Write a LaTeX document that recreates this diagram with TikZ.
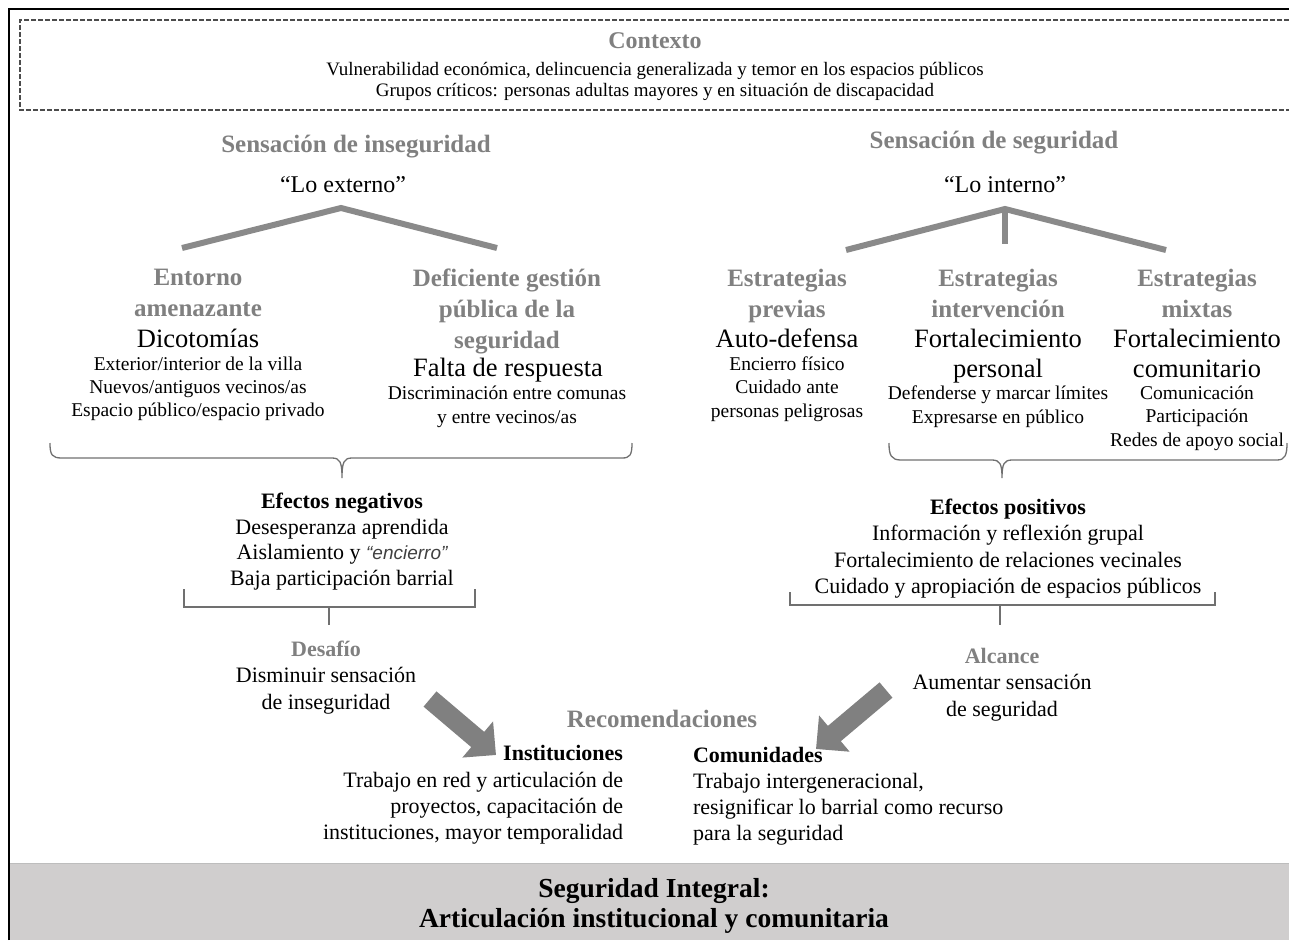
\documentclass[tikz,border=0pt]{standalone}
\usepackage{fontspec}
\setmainfont{Liberation Serif}
\newfontfamily\arialfam{Liberation Sans}
\usetikzlibrary{arrows.meta}
\definecolor{gtx}{HTML}{808080}
\definecolor{gln}{HTML}{8A8A8A}
\definecolor{brc}{HTML}{707070}
\definecolor{band}{HTML}{D0CECE}
\definecolor{bandedge}{HTML}{BDBDBD}
\newcommand{\fs}[2]{\fontsize{#1}{#2}\selectfont}
\tikzset{
  every node/.style={inner sep=0pt, outer sep=0pt},
  txt/.style={anchor=north, align=center},
  gh/.style={txt, text=gtx, font=\fs{25}{31}\bfseries},
  bigt/.style={txt, font=\fs{26.5}{30}},
  smallt/.style={txt, font=\fs{19.5}{23.5}},
  midt/.style={txt, font=\fs{22}{26}},
  boldt/.style={txt, font=\fs{22}{26}\bfseries},
  treeline/.style={draw=gln, line width=6pt},
  bracestyle/.style={draw=brc, line width=1.3pt},
  bigarrow/.style={draw=gtx, line width=20pt, -{Triangle[length=24pt,width=46pt]}},
}
\begin{document}
\begin{tikzpicture}[x=1pt,y=-1pt]
\useasboundingbox (0,0) rectangle (1289,940);
% band
\fill[band] (10,863) rectangle (1289,940);
\draw[bandedge, line width=1pt] (10,863) -- (1289,863);
% outer frame
\draw[black, line width=2.2pt] (9,940) -- (9,9) -- (1289,9);
% context dashed box
\draw[gray!60!black, line width=1.1pt, dash pattern=on 5pt off 2pt] (1289,20) -- (20,20) -- (20,110) -- (1289,110);

% context
\node[txt, text=gtx, font=\fs{24}{28}\bfseries] (ctx) at (655,33) {Contexto};
\node[txt, font=\fs{19}{21}] (ctxl) at (655,62) {Vulnerabilidad económica, delincuencia generalizada y temor en los espacios públicos\\Grupos críticos: personas adultas mayores y en situación de discapacidad};

% left side
\node[gh] (sins) at (356,135) {Sensación de inseguridad};
\node[txt, font=\fs{24}{28}] (lext) at (343,177) {“Lo externo”};
\node[gh] (ent) at (198,269) {Entorno\\amenazante};
\node[bigt] (dic) at (198,329) {Dicotomías};
\node[smallt, font=\fs{19.5}{23}] (dicl) at (198,356.5) {Exterior/interior de la villa\\Nuevos/antiguos vecinos/as\\Espacio público/espacio privado};
\node[gh] (def) at (507,269) {Deficiente gestión\\pública de la\\seguridad};
\node[bigt] (fal) at (508,358) {Falta de respuesta};
\node[smallt, font=\fs{19.5}{24}] (fall) at (507,385.5) {Discriminación entre comunas\\y entre vecinos/as};

\coordinate (la) at (341,208);
\coordinate (lb) at (182,248);
\coordinate (lc) at (497,248);
\draw[treeline] (lb) -- (la) -- (lc);

% left brace
\coordinate (lbl) at (50,443);
\coordinate (lbm) at (342,478);
\coordinate (lbr) at (632,443);
\draw[bracestyle] (lbl) .. controls (50,455) and (52,458) .. (62,458) -- (332,458) .. controls (340,458) and (342,462) .. (lbm) .. controls (342,462) and (344,458) .. (352,458) -- (622,458) .. controls (630,458) and (632,455) .. (lbr);

\node[boldt] (efn) at (342,493) {Efectos negativos};
\node[midt, font=\fs{22}{25.5}] (efnl) at (342,519) {Desesperanza aprendida\\Aislamiento y {\arialfam\itshape\fs{19}{25.5}\color{black!75}“encierro”}\\Baja participación barrial};

% left bracket
\coordinate (lkl) at (184,589);
\coordinate (lkr) at (475,589);
\coordinate (lks) at (329,625);
\draw[bracestyle] (lkl) -- (184,607) -- (475,607) -- (lkr);
\draw[bracestyle] (329,607) -- (lks);

\node[boldt, text=gtx] (des) at (326,641) {Desafío};
\node[midt, font=\fs{22}{27}] (desl) at (326,667) {Disminuir sensación\\de inseguridad};

% recommendations
\node[txt, text=gtx, font=\fs{25}{28}\bfseries] (rec) at (662,710) {Recomendaciones};
\node[boldt, anchor=north east] (inst) at (623,745) {Instituciones};
\node[midt, anchor=north east, align=right] (instl) at (623,772) {Trabajo en red y articulación de\\proyectos, capacitación de\\instituciones, mayor temporalidad};
\node[boldt, anchor=north west] (com) at (693,747) {Comunidades};
\node[midt, anchor=north west, align=left] (coml) at (693,773) {Trabajo intergeneracional,\\resignificar lo barrial como recurso\\para la seguridad};

\coordinate (aL1) at (430,699);
\coordinate (aL2) at (496,755);
\draw[bigarrow] (aL1) -- (aL2);
\coordinate (aR1) at (886,690);
\coordinate (aR2) at (816,749);
\draw[bigarrow] (aR1) -- (aR2);

% right side
\node[gh] (sseg) at (994,131) {Sensación de seguridad};
\node[txt, font=\fs{24}{28}] (lint) at (1005,177) {“Lo interno”};
\coordinate (ra) at (1005,209);
\coordinate (rb) at (846,250);
\coordinate (rc) at (1005,244);
\coordinate (rd) at (1166,250);
\draw[treeline] (rb) -- (ra) -- (rd);
\draw[treeline] (ra) -- (rc);

\node[gh] (epr) at (787,269) {Estrategias\\previas};
\node[bigt] (aut) at (787,329) {Auto-defensa};
\node[smallt] (autl) at (787,356.5) {Encierro físico\\Cuidado ante\\personas peligrosas};

\node[gh] (ein) at (998,269) {Estrategias\\intervención};
\node[bigt] (fpe) at (998,329) {Fortalecimiento\\personal};
\node[smallt, font=\fs{19.5}{24}] (fpel) at (998,385.5) {Defenderse y marcar límites\\Expresarse en público};

\node[gh] (emi) at (1197,269) {Estrategias\\mixtas};
\node[bigt] (fco) at (1197,329) {Fortalecimiento\\comunitario};
\node[smallt] (fcol) at (1197,385.5) {Comunicación\\Participación\\Redes de apoyo social};

% right brace
\coordinate (rbl) at (889,443);
\coordinate (rbm) at (1002,478);
\coordinate (rbr) at (1287,443);
\draw[bracestyle] (rbl) .. controls (889,455) and (891,460) .. (901,460) -- (992,460) .. controls (1000,460) and (1002,464) .. (rbm) .. controls (1002,464) and (1004,460) .. (1012,460) -- (1277,460) .. controls (1285,460) and (1287,455) .. (rbr);

\node[boldt] (efp) at (1008,499) {Efectos positivos};
\node[midt, font=\fs{22}{26.5}] (efpl) at (1008,525) {Información y reflexión grupal\\Fortalecimiento de relaciones vecinales\\Cuidado y apropiación de espacios públicos};

% right bracket
\coordinate (rkl) at (790,592);
\coordinate (rkr) at (1215,592);
\coordinate (rks) at (1000,625);
\draw[bracestyle] (rkl) -- (790,605) -- (1215,605) -- (rkr);
\draw[bracestyle] (1000,605) -- (rks);

\node[boldt, text=gtx] (alc) at (1002,648) {Alcance};
\node[midt, font=\fs{22}{27}] (alcl) at (1002,674) {Aumentar sensación\\de seguridad};

% band text
\node[txt, font=\fs{27.5}{30}\bfseries] (seg) at (654,878) {Seguridad Integral:\\Articulación institucional y comunitaria};
\end{tikzpicture}
\end{document}
